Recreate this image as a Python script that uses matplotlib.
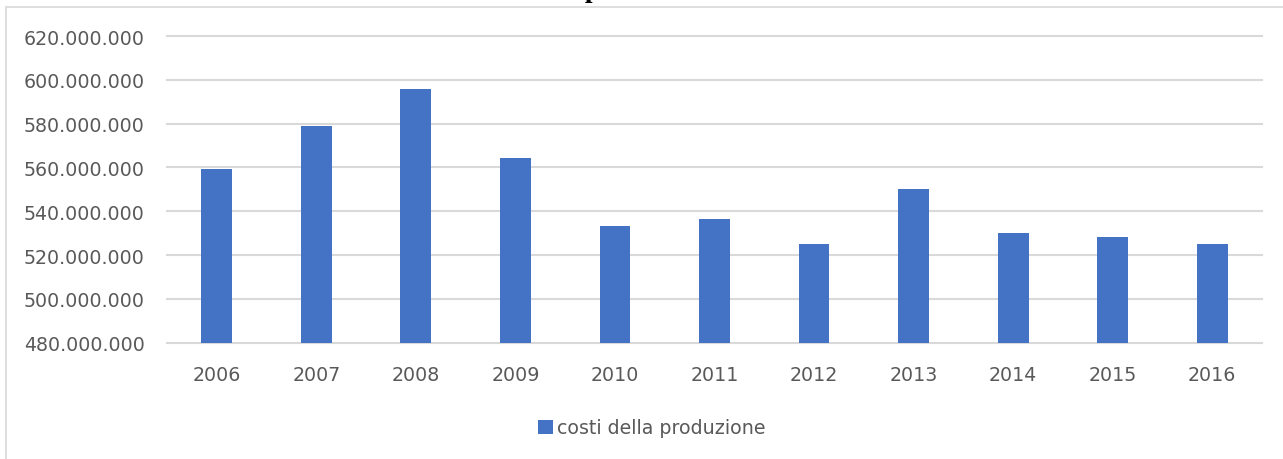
import matplotlib.pyplot as plt
from matplotlib.patches import Rectangle
from matplotlib.ticker import FuncFormatter

# Data
years = ['2006', '2007', '2008', '2009', '2010', '2011',
         '2012', '2013', '2014', '2015', '2016']
costs = [559.3e6, 579.0e6, 596.0e6, 564.2e6, 533.2e6, 536.3e6,
         525.2e6, 550.2e6, 530.1e6, 528.1e6, 525.1e6]
series_label = 'costi della produzione'
title = 'Costi della produzione'

text_color = '#595959'
grid_color = '#D9D9D9'
bar_color = '#4472C4'

fig = plt.figure(figsize=(12.83, 4.6), dpi=100)
ax = fig.add_axes([167 / 1283, 1 - 343.7 / 460,
                   (1262 - 167) / 1283, (343.7 - 37) / 460])

# Light grey outer frame of the chart area (partly off the canvas)
fig.patches.append(Rectangle((6 / 1283, -0.1), 1.2, 1.1 - 8 / 460,
                             transform=fig.transFigure, fill=False,
                             edgecolor=grid_color, linewidth=1.2))

# Title, cut off at the top of the picture as in the original
fig.text(585 / 1283, 1 + 3 / 460, title, ha='center', va='baseline',
         fontsize=20, fontweight='bold', family='Liberation Serif',
         color='black')

x = range(len(years))
ax.bar(x, costs, width=0.31, color=bar_color, label=series_label, zorder=3)

ax.set_xlim(-0.5, len(years) - 0.5)
ax.set_ylim(480e6, 620e6)
ax.set_yticks([480e6 + 20e6 * i for i in range(8)])
ax.yaxis.set_major_formatter(
    FuncFormatter(lambda v, p: f'{int(round(v)):,}'.replace(',', '.')))
ax.set_xticks(list(x))
ax.set_xticklabels(years)

# Excel-like styling
for side in ['top', 'right', 'left', 'bottom']:
    ax.spines[side].set_visible(False)
ax.grid(axis='y', color=grid_color, linewidth=1.5, zorder=0)
for line in ax.get_ygridlines():
    line.set_clip_on(False)
ax.tick_params(axis='both', length=0, labelsize=13.7, labelcolor=text_color)
ax.tick_params(axis='y', pad=16)
ax.tick_params(axis='x', pad=16)

fig.legend(loc='center', bbox_to_anchor=(652 / 1283, 1 - 429 / 460),
           frameon=False, fontsize=13.7, labelcolor=text_color,
           handlelength=0.75, handleheight=0.75, handletextpad=0.25)

fig.savefig('out.png', dpi=100)
